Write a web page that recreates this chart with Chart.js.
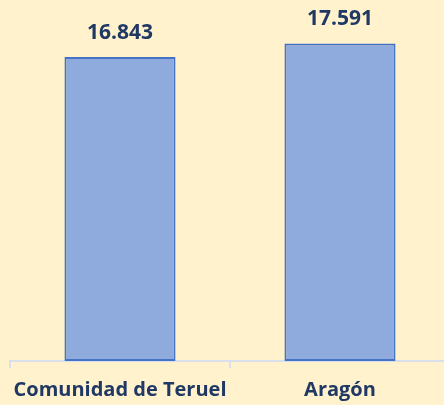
<!DOCTYPE html>
<html>
<head>
<meta charset="utf-8">
<script src="https://cdn.jsdelivr.net/npm/chart.js@4.4.1/dist/chart.umd.min.js"></script>
<style>
html,body{margin:0;padding:0;background:#FFF2CC;overflow:hidden;width:444px;height:405px;}
#wrap{position:relative;width:460px;height:405px;}
</style>
</head>
<body>
<div id="wrap"><canvas id="c" width="460" height="405"></canvas></div>
<script>
const categories = ["Comunidad de Teruel", "Aragón"];
const values = [16843, 17591];
const valueLabels = ["16.843", "17.591"];

const labelColor = "#203864";
const fontFamily = "'Open Sans', sans-serif";

const dataLabelPlugin = {
  id: 'dataLabels',
  afterDatasetsDraw(chart) {
    const ctx = chart.ctx;
    const meta = chart.getDatasetMeta(0);
    ctx.save();
    ctx.font = "bold 21px " + fontFamily;
    ctx.fillStyle = labelColor;
    ctx.textAlign = 'center';
    ctx.textBaseline = 'alphabetic';
    meta.data.forEach((bar, i) => {
      ctx.fillText(valueLabels[i], bar.x, bar.y - 18);
    });
    ctx.restore();
  }
};

new Chart(document.getElementById('c'), {
  type: 'bar',
  data: {
    labels: categories,
    datasets: [{
      data: values,
      backgroundColor: '#8FAADC',
      borderColor: '#4472C4',
      borderWidth: 2,
      borderSkipped: false,
      barPercentage: 0.505,
      categoryPercentage: 1
    }]
  },
  options: {
    responsive: false,
    animation: false,
    devicePixelRatio: 1,
    layout: { padding: { left: 10, right: 10, top: 0, bottom: 0 } },
    plugins: { legend: { display: false }, tooltip: { enabled: false } },
    scales: {
      y: { display: false, min: 0, max: 20000 },
      x: {
        offset: true,
        afterFit(scale) { scale.height = 44; },
        grid: {
          offset: true,
          drawOnChartArea: false,
          drawTicks: true,
          tickLength: 7,
          color: '#D9DFEC',
          lineWidth: 2
        },
        border: { display: true, color: '#D9DFEC', width: 2 },
        ticks: {
          color: labelColor,
          padding: 11,
          font: { family: fontFamily, size: 20, weight: 'bold', lineHeight: 1.1 }
        }
      }
    }
  },
  plugins: [dataLabelPlugin]
});
</script>
</body>
</html>
